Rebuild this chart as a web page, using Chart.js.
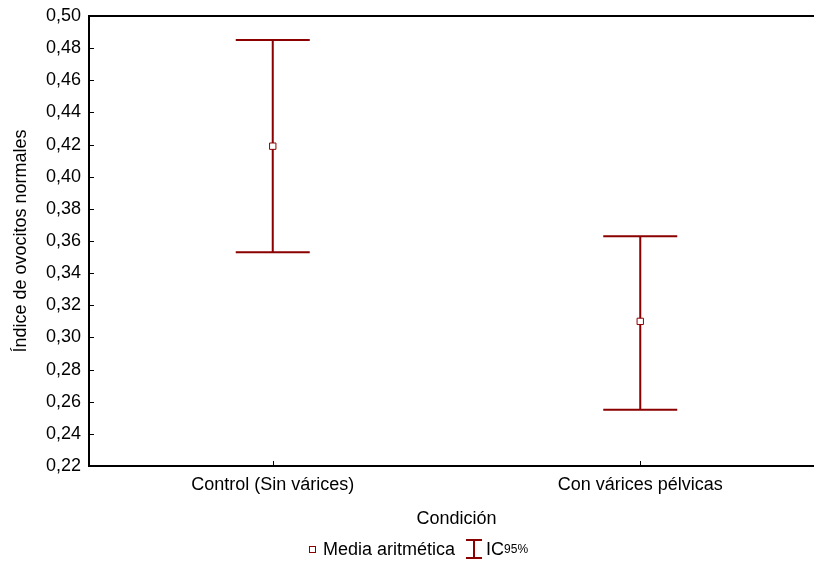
<!DOCTYPE html>
<html>
<head>
<meta charset="utf-8">
<script src="https://cdn.jsdelivr.net/npm/chart.js@4.4.0/dist/chart.umd.min.js"></script>
<style>
  body { margin: 0; overflow: hidden; background: #fff; font-family: "Liberation Sans", Arial, sans-serif; }
  #wrap { position: absolute; left: 0; top: 0; width: 830px; height: 563px; }
  #legend { position: absolute; left: 309px; top: 538px; font-size: 18px; color: #000; white-space: nowrap; display: flex; align-items: center; }
  #legend .sq { display: inline-block; width: 5px; height: 5px; border: 1px solid #8b0000; background: #fff; margin-right: 7px; }
  #legend svg { margin: 0 3px 0 10px; }
  #legend sub { font-size: 12px; vertical-align: -4px; }
</style>
</head>
<body>
<div id="wrap"><canvas id="myChart"></canvas></div>
<div id="legend"><span class="sq"></span>Media aritmética<svg width="18" height="22"><path d="M1 2H17M9 2V20M1 20H17" stroke="#8b0000" stroke-width="2" fill="none"/></svg>IC<sub>95%</sub></div>
<script>
// data
const categories = ['Control (Sin várices)', 'Con várices pélvicas'];
const means = [0.419, 0.310];
const upperCI = [0.485, 0.363];
const lowerCI = [0.353, 0.255];
const yTicks = [0.22, 0.24, 0.26, 0.28, 0.30, 0.32, 0.34, 0.36, 0.38, 0.40, 0.42, 0.44, 0.46, 0.48, 0.50];

const barColor = '#8b0000';
const fontFam = '"Liberation Sans", Arial, sans-serif';

// whiskers + caps, drawn before the mean markers so the markers sit on top
const errorBars = {
    id: 'errorBars',
    beforeDatasetsDraw(chart) {
        const { ctx, scales: { x, y } } = chart;
        ctx.save();
        ctx.strokeStyle = barColor;
        ctx.lineWidth = 2;
        categories.forEach((c, i) => {
            const px = x.getPixelForValue(i);
            const top = y.getPixelForValue(upperCI[i]);
            const bot = y.getPixelForValue(lowerCI[i]);
            ctx.beginPath();
            ctx.moveTo(px, top); ctx.lineTo(px, bot);
            ctx.moveTo(px - 37, top); ctx.lineTo(px + 37, top);
            ctx.moveTo(px - 37, bot); ctx.lineTo(px + 37, bot);
            ctx.stroke();
        });
        ctx.restore();
    }
};

// top frame line and the inward tick marks
const frame = {
    id: 'frame',
    afterDraw(chart) {
        const { ctx, chartArea: a, scales: { x, y } } = chart;
        ctx.save();
        ctx.strokeStyle = '#000';
        ctx.lineWidth = 2;
        ctx.beginPath();
        ctx.moveTo(a.left - 1, a.top); ctx.lineTo(a.right, a.top);
        ctx.stroke();
        ctx.lineWidth = 1;
        ctx.beginPath();
        y.ticks.forEach((t, i) => {
            const py = Math.round(y.getPixelForTick(i)) + 0.5;
            ctx.moveTo(a.left, py); ctx.lineTo(a.left + 5, py);
        });
        x.ticks.forEach((t, i) => {
            const px = Math.round(x.getPixelForTick(i)) + 0.5;
            ctx.moveTo(px, a.bottom); ctx.lineTo(px, a.bottom - 5);
        });
        ctx.stroke();
        ctx.restore();
    }
};

const ctx = document.getElementById('myChart');
new Chart(ctx, {
    type: 'line',
    data: {
        labels: categories,
        datasets: [{
            label: 'Media aritmética',
            data: means,
            showLine: false,
            pointStyle: 'rect',
            pointRadius: 4.5,
            pointBorderWidth: 1,
            pointBackgroundColor: '#fff',
            pointBorderColor: barColor
        }]
    },
    options: {
        responsive: true,
        maintainAspectRatio: false,
        animation: false,
        layout: { padding: { top: 4, right: 6, bottom: 33, left: 0 } },
        scales: {
            x: {
                offset: true,
                afterFit(scale) { scale.height = 64; },
                grid: { display: false, drawTicks: false },
                border: { display: true, color: '#000', width: 2 },
                ticks: { color: '#000', padding: 8, font: { family: fontFam, size: 18 } },
                title: { display: true, text: 'Condición', color: '#000', padding: { top: 10, bottom: 0 }, font: { family: fontFam, size: 18 } }
            },
            y: {
                min: 0.22,
                max: 0.50,
                afterBuildTicks(scale) { scale.ticks = yTicks.map(v => ({ value: v })); },
                afterFit(scale) { scale.width = 89; scale.paddingTop = 16; },
                grid: { display: false, drawTicks: false },
                border: { display: true, color: '#000', width: 2 },
                ticks: {
                    color: '#000',
                    padding: 8,
                    font: { family: fontFam, size: 18 },
                    callback: v => v.toFixed(2).replace('.', ',')
                },
                title: { display: true, text: 'Índice de ovocitos normales', color: '#000', padding: { top: 10, bottom: 0 }, font: { family: fontFam, size: 18 } }
            }
        },
        plugins: {
            legend: { display: false },
            tooltip: { enabled: false }
        }
    },
    plugins: [errorBars, frame]
});
</script>
</body>
</html>
